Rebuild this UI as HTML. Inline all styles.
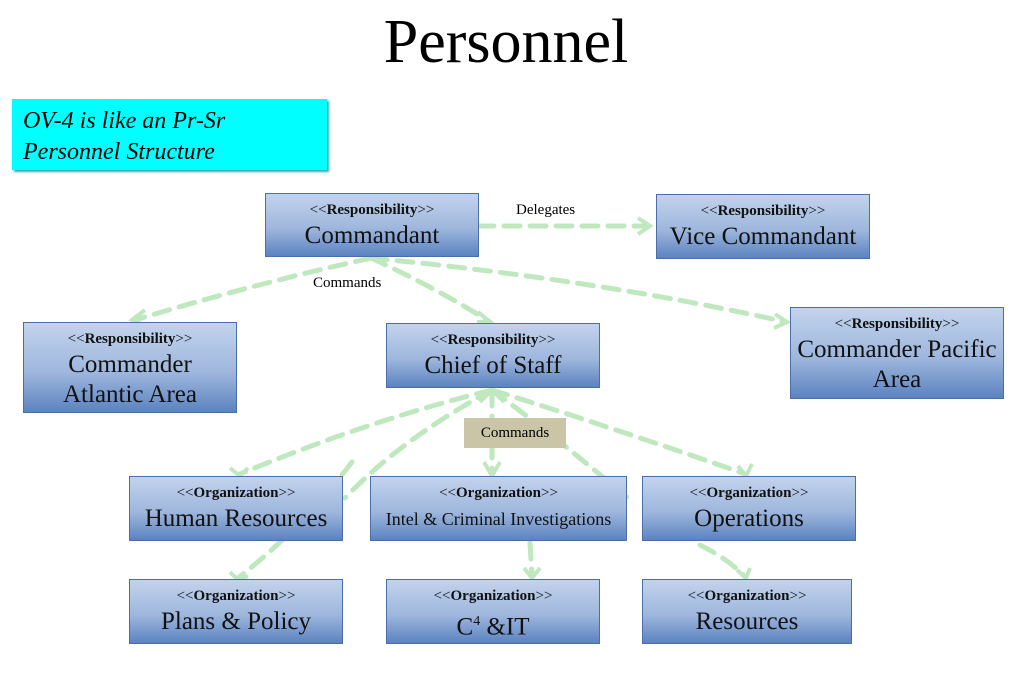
<!DOCTYPE html>
<html><head><meta charset="utf-8"><style>
body{margin:0;width:1012px;height:687px;background:#fff;position:relative;overflow:hidden;font-family:"Liberation Serif",serif;}
.b{position:absolute;box-sizing:border-box;border:1px solid #4a6fa8;background:linear-gradient(#c2d3ec,#9fb7dd 55%,#5b83c0);text-align:center;color:#111;}
.s{font-size:15px;margin-top:8px;line-height:17px;}
.s b{font-weight:bold;}
.n{font-size:25px;line-height:30px;margin-top:2px;}
.t{position:absolute;font-size:15px;}
svg{position:absolute;left:0;top:0;}
</style></head><body>
<div style="position:absolute;left:0;width:1012px;top:6px;text-align:center;font-size:62px;line-height:72px;">Personnel</div>
<div style="position:absolute;left:12px;top:99px;width:315px;height:71px;background:#00ffff;box-shadow:2px 2px 2px #3aa;box-sizing:border-box;padding:7px 11px;font-style:italic;font-size:24px;line-height:31px;">OV-4 is like an Pr-Sr<br>Personnel Structure</div>
<svg width="1012" height="687">
<g fill="none" stroke="#bfe8bf" stroke-width="5" stroke-dasharray="16 10" stroke-linecap="round">
<path d="M478 226 L648 226"/>
<path d="M371 258 Q250 285 135 320"/>
<path d="M371 258 Q600 280 786 322"/>
<path d="M371 258 Q440 290 490 322"/>
<path d="M492 390 Q370 420 240 474"/>
<path d="M492 390 Q400 440 345 498"/>
<path d="M492 390 L492 474"/>
<path d="M492 390 Q560 440 630 500"/>
<path d="M492 390 Q620 430 745 474"/>
<path d="M352 462 Q300 530 238 578"/>
<path d="M530 543 L532 576"/>
<path d="M700 545 Q730 560 745 577"/>
</g>
<g fill="none" stroke="#bfe8bf" stroke-width="4">
<path d="M638 218 L650 226 L638 234"/>
<path d="M145 310 L132 320 L145 326"/>
<path d="M775 314 L787 322 L774 328"/>
<path d="M478 312 L490 322 L477 322"/>
<path d="M484 462 L492 476 L500 462"/>
<path d="M480 402 L492 390 L504 402"/>
<path d="M230 468 L240 476 L248 468"/>
<path d="M738 466 L746 476 L752 464"/>
<path d="M230 572 L238 580 L248 576"/>
<path d="M524 568 L532 578 L540 568"/>
<path d="M737 570 L746 578 L750 568"/>
</g>
</svg>
<div class="t" style="left:516px;top:202px;">Delegates</div>
<div class="t" style="left:313px;top:275px;">Commands</div>
<div style="position:absolute;left:464px;top:418px;width:102px;height:30px;background:#c9c5a6;font-size:15px;line-height:30px;text-align:center;">Commands</div>
<div class="b" style="left:265px;top:193px;width:214px;height:64px;"><div class="s">&lt;&lt;<b>Responsibility</b>&gt;&gt;</div><div class="n">Commandant</div></div>
<div class="b" style="left:656px;top:194px;width:214px;height:65px;"><div class="s">&lt;&lt;<b>Responsibility</b>&gt;&gt;</div><div class="n">Vice Commandant</div></div>
<div class="b" style="left:23px;top:322px;width:214px;height:91px;"><div class="s">&lt;&lt;<b>Responsibility</b>&gt;&gt;</div><div class="n">Commander<br>Atlantic Area</div></div>
<div class="b" style="left:386px;top:323px;width:214px;height:65px;"><div class="s">&lt;&lt;<b>Responsibility</b>&gt;&gt;</div><div class="n">Chief of Staff</div></div>
<div class="b" style="left:790px;top:307px;width:214px;height:92px;"><div class="s">&lt;&lt;<b>Responsibility</b>&gt;&gt;</div><div class="n">Commander Pacific<br>Area</div></div>
<div class="b" style="left:129px;top:476px;width:214px;height:65px;"><div class="s">&lt;&lt;<b>Organization</b>&gt;&gt;</div><div class="n">Human Resources</div></div>
<div class="b" style="left:370px;top:476px;width:257px;height:65px;"><div class="s">&lt;&lt;<b>Organization</b>&gt;&gt;</div><div class="n" style="font-size:18px;">Intel &amp; Criminal Investigations</div></div>
<div class="b" style="left:642px;top:476px;width:214px;height:65px;"><div class="s">&lt;&lt;<b>Organization</b>&gt;&gt;</div><div class="n">Operations</div></div>
<div class="b" style="left:129px;top:579px;width:214px;height:65px;"><div class="s">&lt;&lt;<b>Organization</b>&gt;&gt;</div><div class="n">Plans &amp; Policy</div></div>
<div class="b" style="left:386px;top:579px;width:214px;height:65px;"><div class="s">&lt;&lt;<b>Organization</b>&gt;&gt;</div><div class="n">C<sup style="font-size:14px;">4</sup> &amp;IT</div></div>
<div class="b" style="left:642px;top:579px;width:210px;height:65px;"><div class="s">&lt;&lt;<b>Organization</b>&gt;&gt;</div><div class="n">Resources</div></div>
</body></html>
